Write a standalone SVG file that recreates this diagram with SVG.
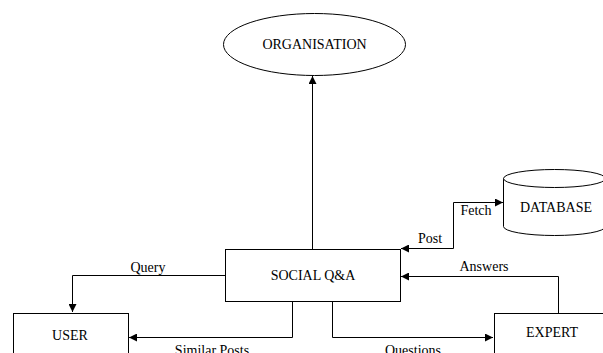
<svg xmlns="http://www.w3.org/2000/svg" width="603" height="353" viewBox="0 0 603 353">
  <defs>
    <marker id="arrow" viewBox="0 0 10 10" refX="10" refY="5" markerWidth="8" markerHeight="8" markerUnits="userSpaceOnUse" orient="auto-start-reverse">
      <path d="M0,0 L10,5 L0,10 z" fill="#000"/>
    </marker>
  </defs>
  <style>
    .shape { fill: #fff; stroke: #000; stroke-width: 1; }
    .edge { fill: none; stroke: #000; stroke-width: 1; }
    text { font-family: "Liberation Serif", "Times New Roman", serif; font-size: 14px; fill: #000; }
    .c { text-anchor: middle; }
  </style>
  <rect width="603" height="353" fill="#fff"/>

  <g id="connectors">
    <path class="edge" d="M312.5,249 V76" marker-end="url(#arrow)"/>
    <path class="edge" d="M401,248.5 H453.5 V202.5 H503" marker-start="url(#arrow)" marker-end="url(#arrow)"/>
    <path class="edge" d="M558.5,313 V276.5 H401" marker-end="url(#arrow)"/>
    <path class="edge" d="M225,275.5 H72.5 V312" marker-end="url(#arrow)"/>
    <path class="edge" d="M292.5,302 V337.5 H129" marker-end="url(#arrow)"/>
    <path class="edge" d="M332.5,302 V337.5 H493" marker-end="url(#arrow)"/>
    <text x="430" y="243" class="c">Post</text>
    <text x="476" y="215" class="c">Fetch</text>
    <text x="484" y="271" class="c">Answers</text>
    <text x="148" y="272" class="c">Query</text>
    <text x="212" y="355" class="c">Similar Posts</text>
    <text x="413" y="355" class="c">Questions</text>
  </g>

  <g id="organisation">
    <ellipse class="shape" cx="314.5" cy="44.5" rx="91" ry="31"/>
    <text x="314.5" y="49" class="c">ORGANISATION</text>
  </g>

  <g id="social-qa">
    <rect class="shape" x="225.5" y="249.5" width="175" height="52"/>
    <text x="313" y="280" class="c">SOCIAL Q&amp;A</text>
  </g>

  <g id="database">
    <path class="shape" d="M503.5,178.5 V226.5 A51,9 0 0 0 605.5,226.5 V178.5"/>
    <ellipse class="shape" cx="554.5" cy="178.5" rx="51" ry="9"/>
    <text x="556" y="212" class="c">DATABASE</text>
  </g>

  <g id="user">
    <rect class="shape" x="13.5" y="313.5" width="115" height="50"/>
    <text x="70" y="340" class="c">USER</text>
  </g>

  <g id="expert">
    <rect class="shape" x="494.5" y="313.5" width="115" height="50"/>
    <text x="552" y="337" class="c">EXPERT</text>
  </g>
</svg>
